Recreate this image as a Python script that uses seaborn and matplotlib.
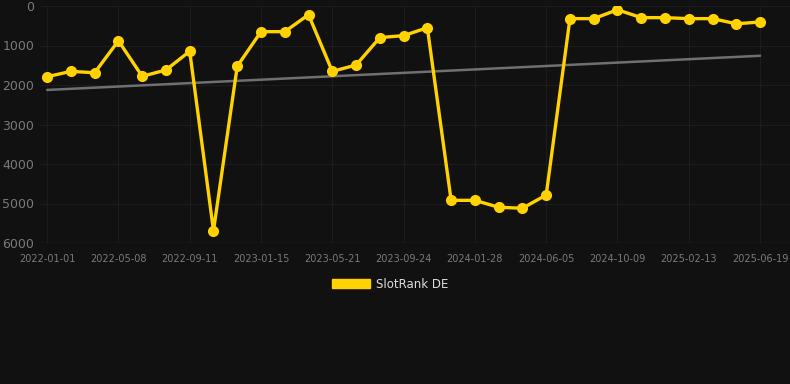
import numpy as np
import pandas as pd
import matplotlib
matplotlib.use("Agg")
import matplotlib.pyplot as plt
from matplotlib.patches import Patch
import seaborn as sns

# rank values (inverted axis: lower = better)
ranks = [1790, 1655, 1690, 880, 1780, 1620, 1145, 5690, 1525, 650,
         650, 220, 1655, 1495, 800, 750, 550, 4920, 4920, 5095,
         5120, 4785, 320, 320, 95, 295, 295, 320, 320, 450, 405]
tick_labels = ['2022-01-01', '2022-05-08', '2022-09-11', '2023-01-15',
               '2023-05-21', '2023-09-24', '2024-01-28', '2024-06-05',
               '2024-10-09', '2025-02-13', '2025-06-19']
trend_ends = [2125, 1260]
series_name = 'SlotRank DE'

bg = '#111111'
gold = '#FFD200'
grid_col = '#1c1c1c'

sns.set_style('dark', {'axes.facecolor': bg, 'figure.facecolor': bg,
                       'grid.color': grid_col, 'axes.edgecolor': bg})
plt.rcParams['font.family'] = ['DejaVu Sans']

df = pd.DataFrame({'pos': np.arange(len(ranks)), 'rank': ranks})

fig = plt.figure(figsize=(7.9, 3.84), dpi=100)
ax = fig.add_axes([40 / 790, 1 - 243 / 384, 750 / 790, 237 / 384])

# trend line
ax.plot([0, len(ranks) - 1], trend_ends, color='#707070', lw=1.8, zorder=2)

sns.lineplot(data=df, x='pos', y='rank', ax=ax, color=gold, lw=2.4,
             marker='o', markersize=8, markeredgewidth=0, zorder=3)

ax.set_ylim(6000, 0)
ax.set_xlim(-0.3, 31.26)
ax.set_yticks([0, 1000, 2000, 3000, 4000, 5000, 6000])
ax.set_xticks(np.arange(0, len(ranks), 3))
ax.set_xticklabels(tick_labels)
ax.grid(True, color=grid_col, lw=0.8)
ax.set_xlabel('')
ax.set_ylabel('')
ax.tick_params(axis='y', colors='#7a7a7a', labelsize=9, length=0, pad=4)
ax.tick_params(axis='x', colors='#7a7a7a', labelsize=7, length=0, pad=8)
for s in ax.spines.values():
    s.set_visible(False)
ax.axhline(6000, color='#2a2a2a', lw=1, zorder=1)

handle = Patch(facecolor=gold, edgecolor=gold)
leg = fig.legend([handle], [series_name], loc='center', bbox_to_anchor=(390 / 790, 1 - 284 / 384),
                 frameon=False, fontsize=8.5, handlelength=3.2, handleheight=0.9,
                 handletextpad=0.5)
for t in leg.get_texts():
    t.set_color('#dddddd')

fig.savefig('out.png', dpi=100, facecolor=bg)
